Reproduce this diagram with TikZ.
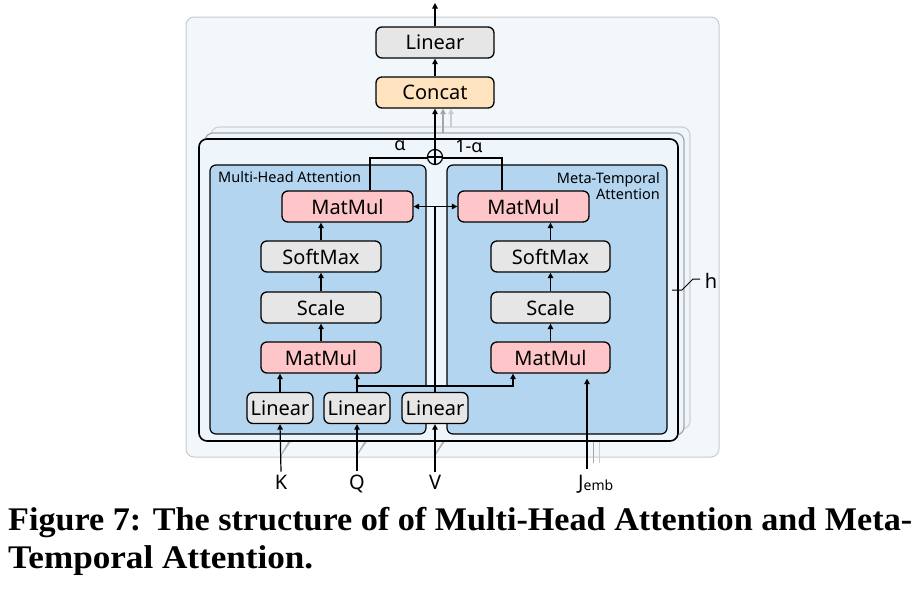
\documentclass[tikz,border=0pt]{standalone}
\usepackage{fontspec}
\usepackage{graphicx}
\setmainfont{Liberation Serif}
\newfontfamily\diag{Noto Sans}
\usetikzlibrary{arrows.meta,calc}
\definecolor{panel}{HTML}{F1F7FB}
\definecolor{panelline}{HTML}{CACACA}
\definecolor{front}{HTML}{EEF6FC}
\definecolor{blueA}{HTML}{B3D5EF}
\definecolor{grayF}{HTML}{E6E6E6}
\definecolor{pinkF}{HTML}{FFC6C9}
\definecolor{peach}{HTML}{FFE2BE}
\begin{document}
\begin{tikzpicture}[x=1pt,y=-1pt,
  box/.style={draw=black,line width=1.3pt,rounded corners=6pt,minimum height=31pt,inner sep=0pt,font=\diag\fontsize{20}{22}\selectfont},
  gbox/.style={box,fill=grayF},
  pbox/.style={box,fill=pinkF},
  ln/.style={line width=1.2pt},
  arr/.style={line width=1.2pt,-{Triangle[length=5.5pt,width=5.5pt]}},
  lbl/.style={font=\diag\fontsize{20}{22}\selectfont,inner sep=0pt},
  small/.style={font=\diag\fontsize{14.5}{16.5}\selectfont,inner sep=0pt}]
\useasboundingbox (0,0) rectangle (920,590);

% outer panel
\draw[panelline,line width=1pt,fill=panel,rounded corners=8pt] (186,17) rectangle (719,457);

% background copies of the inputs
\draw[gray!60,line width=1pt] (281,455) -- (293,435) (281,455) -- (299,429);
\draw[gray!60,line width=1pt] (357,455) -- (369,435) (357,455) -- (375,429);
\draw[gray!60,line width=1pt] (435,455) -- (447,435) (435,455) -- (453,429);
\draw[gray!70,line width=1pt] (593,463) -- (593,435);
\draw[gray!40,line width=1pt] (599,463) -- (599,429);

% stacked head boxes
\draw[gray!35,line width=1.2pt,fill=front,rounded corners=8pt] (211,127) rectangle (690,429);
\draw[gray!70,line width=1.2pt,fill=front,rounded corners=8pt] (205,133) rectangle (684,435);
\draw[black,line width=1.6pt,fill=front,rounded corners=8pt] (199,139) rectangle (678,441);

% blue attention areas
\draw[ln,fill=blueA] (216,165) -- (420,165) arc[start angle=-90,end angle=0,radius=6]
  -- (426,386) -- (447,386) -- (447,171) arc[start angle=180,end angle=270,radius=6]
  -- (661,165) arc[start angle=-90,end angle=0,radius=6]
  -- (667,428) arc[start angle=0,end angle=90,radius=6]
  -- (453,434) arc[start angle=90,end angle=180,radius=6]
  -- (447,410) -- (426,410) -- (426,428) arc[start angle=0,end angle=90,radius=6]
  -- (216,434) arc[start angle=90,end angle=180,radius=6]
  -- (210,171) arc[start angle=180,end angle=270,radius=6] -- cycle;

\node[small,anchor=west] (mha) at (218,177.5) {Multi-Head Attention};
\node[small,anchor=east,align=right] (mta) at (660,186) {Meta-Temporal\\Attention};

% top
\node[gbox,minimum width=118pt] (lin) at (435,42.5) {Linear};
\node[box,fill=peach,minimum width=118pt] (cat) at (435,92.5) {Concat};

% left column
\node[pbox,minimum width=131pt] (lmm1) at (347.5,206.5) {MatMul};
\node[gbox,minimum width=120pt] (lsm) at (321,256.5) {SoftMax};
\node[gbox,minimum width=120pt] (lsc) at (321,307.5) {Scale};
\node[pbox,minimum width=120pt] (lmm2) at (321,357.5) {MatMul};
% right column
\node[pbox,minimum width=131pt] (rmm1) at (523.5,206.5) {MatMul};
\node[gbox,minimum width=119pt] (rsm) at (550.5,256.5) {SoftMax};
\node[gbox,minimum width=119pt] (rsc) at (550.5,307.5) {Scale};
\node[pbox,minimum width=119pt] (rmm2) at (550.5,357.5) {MatMul};

% linear projections
\node[gbox,minimum width=66pt] (linK) at (280,408) {Linear};
\node[gbox,minimum width=66pt] (linQ) at (357,408) {Linear};
\node[gbox,minimum width=66pt] (linV) at (435,408) {Linear};

% inputs
\node[lbl,anchor=base] (K) at (281,489) {K};
\node[lbl,anchor=base] (Q) at (357,489) {Q};
\node[lbl,anchor=base] (V) at (435,489) {V};
\node[lbl,anchor=base west] (J) at (578,489) {J\raisebox{-1pt}{\fontsize{14}{14}\selectfont emb}};
\coordinate (jb) at (587,469);

\draw[arr] (K.north) ++(0,-3) -- (linK.south);
\draw[arr] (Q.north) ++(0,-3) -- (linQ.south);
\draw[arr] (V.north) ++(0,-3) -- (linV.south);
\draw[arr,shorten >=5pt] (jb) -- (jb |- rmm2.south);

% column arrows
\draw[arr] (linK.north) -- (linK.north |- lmm2.south);
\draw[arr] (linQ.north) -- (linQ.north |- lmm2.south);
\coordinate (qb) at (357,386);
\coordinate (qr) at (513,386);
\draw[arr] (qb) -- (qr) -- (qr |- rmm2.south);
\draw[arr] (lmm2.north) -- (lsc.south);
\draw[arr] (lsc.north) -- (lsm.south);
\draw[arr] (lsm.north) -- (lsm.north |- lmm1.south);
\draw[arr] (rmm2.north) -- (rsc.south);
\draw[arr] (rsc.north) -- (rsm.south);
\draw[arr] (rsm.north) -- (rsm.north |- rmm1.south);

% V path and cross connection
\draw[ln] (linV.north) -- (linV.north |- lmm1.east);
\draw[line width=1.2pt,{Triangle[length=5.5pt,width=5.5pt]}-{Triangle[length=5.5pt,width=5.5pt]}] (lmm1.east) -- (rmm1.west);

% weighted sum
\coordinate (al) at (370,158);
\coordinate (ar) at (502,158);
\draw[ln] (al |- lmm1.north) -- (al) -- (ar) -- (ar |- rmm1.north);
\node[circle,draw,line width=1.2pt,fill=front,minimum size=15pt,inner sep=0pt] (plus) at (435,157) {};
\draw[ln] (plus.north) -- (plus.south) (plus.west) -- (plus.east);
\node[lbl,font=\diag\fontsize{18}{20}\selectfont] (alpha) at (400,146) {α};
\node[lbl,font=\diag\fontsize{18}{20}\selectfont] (oma) at (469,146) {1-α};

\draw[arr] (plus.north) -- (cat.south);
\coordinate (b2) at (443,133);
\coordinate (b3) at (451,127);
\draw[arr,gray!70] (b2) -- (b2 |- cat.south);
\draw[arr,gray!40] (b3) -- (b3 |- cat.south);

\coordinate (out) at (435,3);
\draw[arr] (cat.north) -- (lin.south);
\draw[arr] (lin.north) -- (out);

% h marker
\draw[line width=1pt] (672,290) -- (682,290) -- (693,279) -- (700,279);
\node[lbl] (h) at (711,281) {h};

% caption
\node[anchor=base west,inner sep=0pt,font=\bfseries\fontsize{33}{36}\selectfont] (cap1) at (8,530) {\resizebox{904pt}{\height}{Figure 7: The structure of of Multi-Head Attention and Meta-}};
\node[anchor=base west,inner sep=0pt,font=\bfseries\fontsize{33}{36}\selectfont] (cap2) at (8,568) {\resizebox{305pt}{\height}{Temporal Attention.}};
\end{tikzpicture}
\end{document}
